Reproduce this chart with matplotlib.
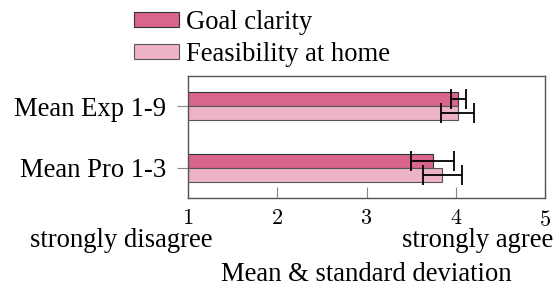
import numpy as np
import matplotlib
matplotlib.use('Agg')
import matplotlib.pyplot as plt

plt.rcParams['font.family'] = ['Liberation Serif', 'DejaVu Serif']
plt.rcParams['mathtext.fontset'] = 'cm'

# datos
categorias = ['Mean Pro 1-3', 'Mean Exp 1-9']
goal_media = [3.74, 4.03]
goal_std = [0.24, 0.08]
feas_media = [3.85, 4.02]
feas_std = [0.22, 0.18]
xticks = [1, 2, 3, 4, 5]

color_goal = '#D9658D'
color_feas = '#EDB2C6'
fs = 19.2

fig = plt.figure(figsize=(5.54, 2.93), dpi=100)
ax = fig.add_axes([188/554, 1-198/293, (545-188)/554, (198-76)/293])

y = np.arange(len(categorias))
h = 0.218
err_kw = dict(ecolor='black', capsize=7, elinewidth=1.3, capthick=1.3)
ax.barh(y + h/2, np.array(goal_media) - 1, left=1, height=h, color=color_goal,
        edgecolor='#333333', linewidth=0.8, xerr=goal_std, error_kw=err_kw,
        label='Goal clarity')
ax.barh(y - h/2, np.array(feas_media) - 1, left=1, height=h, color=color_feas,
        edgecolor='#555555', linewidth=0.8, xerr=feas_std, error_kw=err_kw,
        label='Feasibility at home')

ax.set_xlim(1, 5)
ax.set_ylim(-0.484, 1.484)
ax.set_xticks(xticks)
ax.set_xticklabels(['$%d$' % t for t in xticks], fontsize=16)
ax.set_yticks(y)
ax.set_yticklabels(categorias, fontsize=fs)
ax.tick_params(axis='x', direction='in', length=8, color='#888888', pad=9)
ax.tick_params(axis='y', direction='out', length=8, color='#888888', pad=8)
for s in ax.spines.values():
    s.set_color('#555555')
    s.set_linewidth(1.0)

fig.text(121.5/554, 1-247/293, 'strongly disagree', ha='center', va='baseline', fontsize=fs)
fig.text(477.5/554, 1-247/293, 'strongly agree', ha='center', va='baseline', fontsize=fs)
fig.text(366.5/554, 1-281/293, 'Mean & standard deviation', ha='center', va='baseline', fontsize=fs)

fig.legend(loc='upper left', bbox_to_anchor=(134/554, 1-10/293), frameon=False,
           fontsize=fs, handlelength=1.7, handleheight=0.52, handletextpad=0.26,
           labelspacing=0.26, borderpad=0.0, borderaxespad=0.0)

fig.savefig('out.png', dpi=100)
